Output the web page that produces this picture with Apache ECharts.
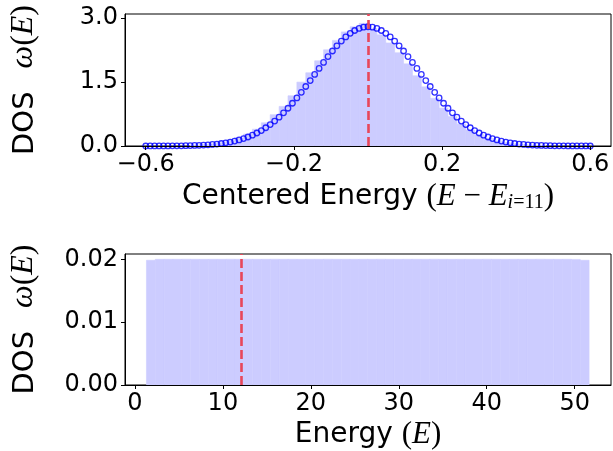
<!DOCTYPE html>
<html>
<head>
<meta charset="utf-8">
<script src="https://cdn.jsdelivr.net/npm/echarts@6/dist/echarts.min.js"></script>
<style>
  html, body { margin: 0; padding: 0; background: #fff; }
  #chart { width: 613px; height: 451px; }
</style>
</head>
<body>
<div id="chart"></div>
<script>
// top panel: DOS around E_{i=11}, circles + histogram
const curveStart = -0.6;
const curveStep = 0.012;
const curveValues = [
  0.000, 0.001, 0.001, 0.001, 0.002, 0.002, 0.003, 0.004, 0.005, 0.007,
  0.010, 0.013, 0.017, 0.022, 0.028, 0.036, 0.046, 0.059, 0.074, 0.093,
  0.115, 0.142, 0.174, 0.211, 0.255, 0.305, 0.363, 0.429, 0.503, 0.586,
  0.678, 0.778, 0.887, 1.004, 1.129, 1.260, 1.397, 1.537, 1.680, 1.823,
  1.963, 2.101, 2.231, 2.353, 2.465, 2.562, 2.646, 2.712, 2.761, 2.790,
  2.800,
  2.790, 2.761, 2.712, 2.646, 2.562, 2.465, 2.353, 2.231, 2.101, 1.963,
  1.823, 1.680, 1.537, 1.397, 1.260, 1.129, 1.004, 0.887, 0.778, 0.678,
  0.586, 0.503, 0.429, 0.363, 0.305, 0.255, 0.211, 0.174, 0.142, 0.115,
  0.093, 0.074, 0.059, 0.046, 0.036, 0.028, 0.022, 0.017, 0.013, 0.010,
  0.007, 0.005, 0.004, 0.003, 0.002, 0.002, 0.001, 0.001, 0.001, 0.000
];
const topHistStart = -0.48;
const topHistWidth = 0.024;
const topHistValues = [
  0.020, 0.034, 0.055, 0.085, 0.130, 0.195, 0.280, 0.395, 0.545, 0.735,
  0.930, 1.180, 1.500, 1.720, 2.000, 2.260, 2.480, 2.680, 2.800, 2.880,
  2.760, 2.610, 2.420, 2.190, 1.930, 1.650, 1.390, 1.120, 0.890, 0.690,
  0.515, 0.375, 0.265, 0.180, 0.120, 0.080, 0.050, 0.030, 0.018, 0.010
];
const topMarker = 0;
const topXTicks = [-0.6, -0.2, 0.2, 0.6];
const topYTicks = [0, 1.5, 3.0];

// bottom panel: full DOS over energy
const botHistStart = 1.31;
const botHistWidth = 1.0066;
const botHistValues = [
  0.01984, 0.01999, 0.02000, 0.02000, 0.02001, 0.02000, 0.01999, 0.02000, 0.02000, 0.02001,
  0.02000, 0.02000, 0.01999, 0.02000, 0.02001, 0.02000, 0.02000, 0.01999, 0.02000, 0.02000,
  0.02001, 0.02000, 0.02000, 0.01999, 0.02000, 0.02000, 0.02001, 0.02000, 0.01999, 0.02000,
  0.02000, 0.02000, 0.02001, 0.02000, 0.01999, 0.02000, 0.02000, 0.02000, 0.02001, 0.02000,
  0.01999, 0.02000, 0.02000, 0.02000, 0.02001, 0.02000, 0.01999, 0.02000, 0.01998, 0.01984
];
const botMarker = 12.05;
const botXTicks = [0, 10, 20, 30, 40, 50];
const botYTicks = [0, 0.01, 0.02];

const chart = echarts.init(document.getElementById('chart'));

const FILL = '#ccccff';
const RED = '#e8475a';
const SERIF = 'Liberation Serif';
const tickFont = { fontFamily: 'DejaVu Sans', fontSize: 24, color: '#000' };
const mathRich = {
  a: { fontFamily: 'DejaVu Sans', fontSize: 28, color: '#000' },
  m: { fontFamily: SERIF, fontSize: 31, color: '#000' },
  i: { fontFamily: SERIF, fontStyle: 'italic', fontSize: 31, color: '#000' },
  s: { fontFamily: SERIF, fontSize: 20, color: '#000', padding: [13, 0, 0, 0] },
  si: { fontFamily: SERIF, fontStyle: 'italic', fontSize: 20, color: '#000', padding: [13, 0, 0, 0] },
  // y-axis title pieces
  ya: { fontFamily: 'DejaVu Sans', fontSize: 29, color: '#000' },
  yw: { fontFamily: SERIF, fontStyle: 'italic', fontSize: 32, color: '#000', padding: [0, 0, 3, 23] },
  ym: { fontFamily: SERIF, fontSize: 32, color: '#000', padding: [0, 0, 3, 0] },
  yi: { fontFamily: SERIF, fontStyle: 'italic', fontSize: 32, color: '#000', padding: [0, 0, 3, 0] }
};

const histData = (start, width, values) =>
  values.map((v, i) => [start + i * width, start + (i + 1) * width, v]);

function histItem(params, api) {
  const p0 = api.coord([api.value(0), api.value(2)]);
  const p1 = api.coord([api.value(1), 0]);
  return {
    type: 'rect',
    shape: { x: p0[0], y: p0[1], width: p1[0] - p0[0], height: p1[1] - p0[1] },
    style: { fill: FILL, stroke: FILL, lineWidth: 0.6 }
  };
}

function xAxisOf(idx, min, max, ticks, name) {
  return {
    type: 'value', gridIndex: idx, min: min, max: max, z: 10,
    name: name, nameLocation: 'middle', nameGap: 34,
    nameTextStyle: { rich: mathRich },
    axisLine: { show: true, onZero: false, lineStyle: { color: '#000', width: 1 } },
    axisTick: { show: true, length: 4, customValues: ticks, lineStyle: { color: '#000' } },
    axisLabel: Object.assign({ customValues: ticks, margin: 7,
      formatter: v => (v < 0 ? '\u2212' : '') + Math.abs(v) }, tickFont),
    splitLine: { show: false }
  };
}

function yAxisOf(idx, min, max, ticks, digits) {
  return {
    type: 'value', gridIndex: idx, min: min, max: max, z: 10,
    name: '{ya|DOS}{yw|\u03c9}{ym|(}{yi|E}{ym|)}', nameLocation: 'middle', nameGap: 82, nameRotate: 90,
    nameTextStyle: { rich: mathRich },
    axisLine: { show: true, onZero: false, lineStyle: { color: '#000', width: 1 } },
    axisTick: { show: true, length: 4, customValues: ticks, lineStyle: { color: '#000' } },
    axisLabel: Object.assign({ customValues: ticks, margin: 7,
      formatter: v => v.toFixed(digits) }, tickFont),
    splitLine: { show: false }
  };
}

function markerLine(x) {
  return {
    silent: true, symbol: ['none', 'none'],
    label: { show: false },
    lineStyle: { color: RED, type: [9, 4], width: 2.6, opacity: 1 },
    data: [{ xAxis: x }]
  };
}

chart.setOption({
  animation: false,
  backgroundColor: '#fff',
  grid: [
    { left: 123, right: 2, top: 14, height: 132, show: true, borderColor: '#000', borderWidth: 1 },
    { left: 123, right: 2, top: 254, height: 132, show: true, borderColor: '#000', borderWidth: 1 }
  ],
  xAxis: [
    xAxisOf(0, -0.656, 0.656, topXTicks,
      '{a|Centered Energy }{m|(}{i|E}{m| \u2212 }{i|E}{si|i}{s|=11}{m|)}'),
    xAxisOf(1, -1.13, 54.13, botXTicks, '{a|Energy }{m|(}{i|E}{m|)}')
  ],
  yAxis: [
    yAxisOf(0, 0, 3.1, topYTicks, 1),
    yAxisOf(1, 0, 0.02084, botYTicks, 2)
  ],
  series: [
    {
      type: 'custom', xAxisIndex: 0, yAxisIndex: 0,
      renderItem: histItem, encode: { x: [0, 1], y: 2 },
      data: histData(topHistStart, topHistWidth, topHistValues),
      markLine: markerLine(topMarker), z: 2
    },
    {
      type: 'scatter', xAxisIndex: 0, yAxisIndex: 0,
      symbol: 'circle', symbolSize: 5.5,
      itemStyle: { color: 'rgba(0,0,0,0)', borderColor: '#0000ff', borderWidth: 1.3 },
      data: curveValues.map((v, i) => [curveStart + i * curveStep, v]), z: 4
    },
    {
      type: 'custom', xAxisIndex: 1, yAxisIndex: 1,
      renderItem: histItem, encode: { x: [0, 1], y: 2 },
      data: histData(botHistStart, botHistWidth, botHistValues),
      markLine: markerLine(botMarker), z: 2
    }
  ]
});
</script>
</body>
</html>
